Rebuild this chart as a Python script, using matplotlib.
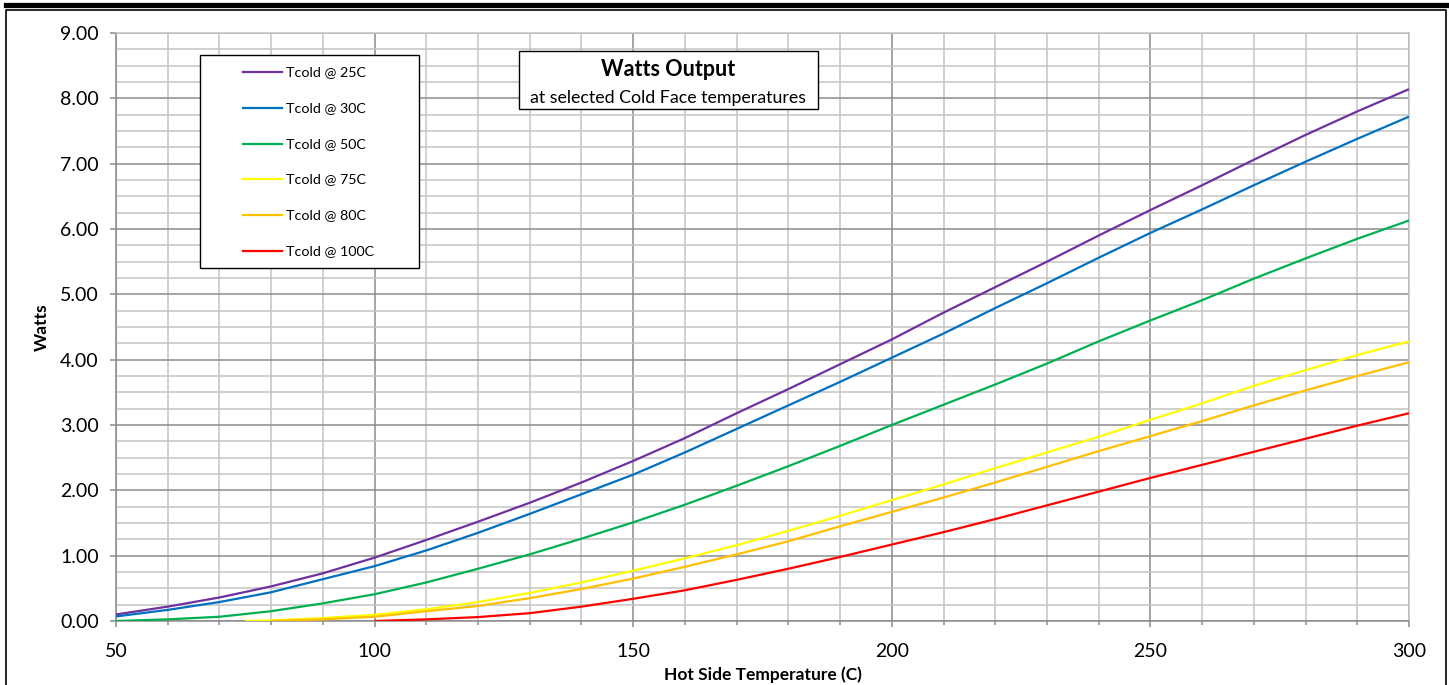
import matplotlib
matplotlib.use("Agg")
import matplotlib.pyplot as plt
from matplotlib.patches import Rectangle
from matplotlib.lines import Line2D
from matplotlib.ticker import MultipleLocator, FormatStrFormatter

plt.rcParams['font.family'] = ['Lato', 'DejaVu Sans']

# ---- data ----
x_25 = [50, 60, 70, 80, 90, 100, 110, 120, 130, 140, 150, 160, 170, 180, 190,
        200, 210, 220, 230, 240, 250, 260, 270, 280, 290, 300]
w_25 = [0.10, 0.22, 0.36, 0.53, 0.73, 0.97, 1.24, 1.52, 1.81, 2.12, 2.45, 2.80, 3.18,
        3.55, 3.93, 4.31, 4.72, 5.11, 5.50, 5.90, 6.29, 6.67, 7.06, 7.44, 7.80, 8.14]
x_30 = x_25
w_30 = [0.07, 0.17, 0.29, 0.44, 0.64, 0.84, 1.08, 1.35, 1.64, 1.94, 2.24, 2.58, 2.94,
        3.30, 3.66, 4.03, 4.40, 4.79, 5.17, 5.56, 5.94, 6.30, 6.67, 7.03, 7.38, 7.72]
x_50 = x_25
w_50 = [0.00, 0.025, 0.065, 0.15, 0.27, 0.41, 0.59, 0.80, 1.02, 1.26, 1.51, 1.78, 2.07,
        2.37, 2.68, 3.00, 3.31, 3.62, 3.94, 4.28, 4.60, 4.91, 5.24, 5.55, 5.85, 6.13]
x_75 = [75, 80, 90, 100, 110, 120, 130, 140, 150, 160, 170, 180, 190,
        200, 210, 220, 230, 240, 250, 260, 270, 280, 290, 300]
w_75 = [0.00, 0.01, 0.045, 0.095, 0.18, 0.29, 0.43, 0.59, 0.77, 0.96, 1.16, 1.38, 1.61,
        1.85, 2.09, 2.34, 2.58, 2.82, 3.08, 3.33, 3.60, 3.84, 4.07, 4.28]
x_80 = [80, 90, 100, 110, 120, 130, 140, 150, 160, 170, 180, 190,
        200, 210, 220, 230, 240, 250, 260, 270, 280, 290, 300]
w_80 = [0.00, 0.025, 0.065, 0.15, 0.23, 0.35, 0.49, 0.65, 0.83, 1.02, 1.22, 1.45,
        1.67, 1.89, 2.12, 2.36, 2.60, 2.83, 3.06, 3.30, 3.53, 3.75, 3.96]
x_100 = [100, 110, 120, 130, 140, 150, 160, 170, 180, 190,
         200, 210, 220, 230, 240, 250, 260, 270, 280, 290, 300]
w_100 = [0.00, 0.025, 0.06, 0.12, 0.22, 0.34, 0.47, 0.63, 0.80, 0.98,
         1.17, 1.36, 1.56, 1.77, 1.98, 2.19, 2.39, 2.59, 2.79, 2.99, 3.18]

labels = ['Tcold @ 25C', 'Tcold @ 30C', 'Tcold @ 50C',
          'Tcold @ 75C', 'Tcold @ 80C', 'Tcold @ 100C']
colors = ['#7030A0', '#0070C0', '#00B050', '#FFFF00', '#FFC000', '#FF0000']
series = [(x_25, w_25), (x_30, w_30), (x_50, w_50),
          (x_75, w_75), (x_80, w_80), (x_100, w_100)]

W, H = 1449, 685
fig = plt.figure(figsize=(W / 100, H / 100), dpi=100)

def fx(px):
    return px / W

def fy(py):
    return 1 - py / H

ax = fig.add_axes([fx(116), fy(621), fx(1409) - fx(116), fy(33) - fy(621)])
ax.set_xlim(50, 300)
ax.set_ylim(0, 9)

major_c = '#8C8C8C'
minor_c = '#C4C4C4'
ax.xaxis.set_major_locator(MultipleLocator(50))
ax.xaxis.set_minor_locator(MultipleLocator(10))
ax.yaxis.set_major_locator(MultipleLocator(1))
ax.yaxis.set_minor_locator(MultipleLocator(0.25))
ax.yaxis.set_major_formatter(FormatStrFormatter('%.2f'))
ax.grid(which='major', color=major_c, linewidth=1.1)
ax.grid(which='minor', color=minor_c, linewidth=1.1)
ax.set_axisbelow(True)
for s in ax.spines.values():
    s.set_color(major_c)
    s.set_linewidth(1.1)
ax.spines['top'].set_color(minor_c)
ax.spines['right'].set_color(minor_c)

ax.tick_params(axis='y', which='major', direction='out', length=4.5, width=1.1,
               color=major_c, labelsize=14, pad=8, labelcolor='black')
ax.tick_params(axis='y', which='minor', length=0)
ax.tick_params(axis='x', which='major', direction='out', length=4, width=1.1,
               color=major_c, labelsize=14, pad=12, labelcolor='black')
ax.tick_params(axis='x', which='minor', direction='out', length=3, width=1.1,
               color=major_c)

for (xs, ys), c, lab in zip(series, colors, labels):
    ax.plot(xs, ys, color=c, linewidth=1.6, label=lab, zorder=3, solid_capstyle='butt')

ax.set_ylabel('Watts', fontsize=12.5, fontweight='bold', va='center')
ax.yaxis.set_label_coords(fx(42), fy(327), transform=fig.transFigure)
ax.set_xlabel('Hot Side Temperature (C)', fontsize=12.5, fontweight='bold', va='center')
ax.xaxis.set_label_coords(fx(763), fy(675), transform=fig.transFigure)

# ---- legend box (manual) ----
fig.patches.append(Rectangle((fx(200), fy(268)), fx(419) - fx(200), fy(55) - fy(268),
                             transform=fig.transFigure, facecolor='white',
                             edgecolor='black', linewidth=1.0, zorder=5))
leg_y = [72.3, 108.3, 144.0, 179.3, 215.0, 250.7]
for yy, c, lab in zip(leg_y, colors, labels):
    fig.lines.append(Line2D([fx(243), fx(282)], [fy(yy), fy(yy)], color=c,
                            linewidth=1.6, transform=fig.transFigure, zorder=6))
    fig.text(fx(286), fy(yy), lab, fontsize=10.3, va='center', ha='left', zorder=6)

# ---- title box ----
fig.patches.append(Rectangle((fx(519), fy(109)), fx(818) - fx(519), fy(50.5) - fy(109),
                             transform=fig.transFigure, facecolor='white',
                             edgecolor='black', linewidth=1.0, zorder=5))
fig.text(fx(668.5), fy(69.5), 'Watts Output', fontsize=15.5, fontweight='bold',
         ha='center', va='center', zorder=6)
fig.text(fx(668.5), fy(97.5), 'at selected Cold Face temperatures', fontsize=12.8,
         ha='center', va='center', zorder=6)

# ---- outer frame ----
fig.lines.append(Line2D([fx(6), fx(1447)], [fy(4.5), fy(4.5)], color='black',
                        linewidth=3.8, transform=fig.transFigure, zorder=7))
fig.lines.append(Line2D([fx(6.5), fx(6.5), fx(1446), fx(1446)],
                        [fy(690), fy(10), fy(10), fy(690)], color='black',
                        linewidth=1.2, transform=fig.transFigure, zorder=7))

fig.savefig('out.png', dpi=100)
